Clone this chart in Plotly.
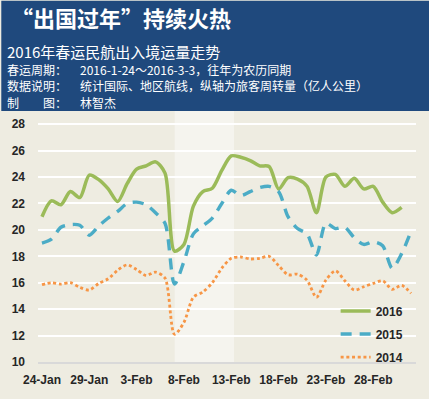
import plotly.graph_objects as go
import pandas as pd

# ---------------- data ----------------
start_date = "2016-01-24"
n_days = 40
dates = pd.date_range(start_date, periods=n_days, freq="D")

series_names = ["2016", "2015", "2014"]

values_2016 = [21.0, 22.2, 21.9, 22.9, 22.45, 24.15, 23.8, 23.1, 22.15, 23.5,
               24.6, 24.85, 25.15, 24.3, 18.4, 18.9, 21.8, 22.9, 23.15, 24.5,
               25.6, 25.5, 25.25, 24.85, 24.8, 23.1, 23.95, 23.85, 23.3, 21.3,
               24.0, 24.2, 23.3, 23.9, 23.1, 23.3, 22.1, 21.3, 21.7]

values_2015 = [19.0, 19.3, 20.2, 20.4, 20.35, 19.6, 20.3, 20.9, 21.4, 22.0,
               22.1, 21.9, 21.3, 20.5, 15.9, 17.6, 19.7, 20.3, 20.9, 22.0,
               23.0, 22.6, 22.9, 23.2, 23.3, 22.9, 21.0, 20.1, 19.7, 18.1,
               20.5, 20.1, 20.2, 19.4, 18.9, 19.1, 18.8, 17.1, 18.2, 19.9]

values_2014 = [15.85, 16.0, 15.9, 16.0, 15.65, 15.45, 15.95, 16.3, 16.95, 17.35,
               17.0, 16.55, 16.8, 16.35, 12.1, 13.0, 14.9, 15.3, 16.0, 17.1,
               17.85, 17.95, 17.8, 17.85, 18.0, 17.3, 16.6, 16.65, 16.2, 14.9,
               16.2, 16.9, 16.15, 15.45, 15.7, 15.95, 16.15, 15.5, 15.8, 15.2]

y_ticks = [10, 12, 14, 16, 18, 20, 22, 24, 26, 28]
x_tick_dates = ["2016-01-24", "2016-01-29", "2016-02-03", "2016-02-08",
                "2016-02-13", "2016-02-18", "2016-02-23", "2016-02-28"]
x_tick_labels = ["24-Jan", "29-Jan", "3-Feb", "8-Feb",
                 "13-Feb", "18-Feb", "23-Feb", "28-Feb"]

holiday_band = ["2016-02-07 00:30", "2016-02-13 07:00"]

title_text = "“出国过年”持续火热"
subtitle_text = "2016年春运民航出入境运量走势"
info_labels = ["春运周期：", "数据说明：", "制　　图："]
info_values = ["2016-1-24～2016-3-3，往年为农历同期",
               "统计国际、地区航线，纵轴为旅客周转量（亿人公里）",
               "林智杰"]

# ---------------- style ----------------
W_PX, H_PX = 429, 399
L, R, T, B = 35, 416, 111, 368
BG = "#EEECE1"
BAND = "#F5F4EE"
HEADER = "#1F497D"
C2016, C2015, C2014 = "#9BBB59", "#4BACC6", "#F79646"
TXT = "#262626"
CJK = "Noto Sans CJK SC"
LAT = "Liberation Sans, Arial, sans-serif"


def px(x):
    return (x - L) / (R - L)


def py(y):
    return (B - y) / (B - T)


fig = go.Figure()

fig.add_trace(go.Scatter(
    x=dates[:len(values_2016)], y=values_2016, name=series_names[0],
    mode="lines", line=dict(color=C2016, width=3.5, shape="spline", smoothing=0.8),
    legendgroup="a"))
fig.add_trace(go.Scatter(
    x=dates[:len(values_2015)], y=values_2015, name=series_names[1],
    mode="lines", line=dict(color=C2015, width=3.4, shape="spline", smoothing=0.8,
                            dash="11px,8px"),
    legendgroup="b"))
fig.add_trace(go.Scatter(
    x=dates[:len(values_2014)], y=values_2014, name=series_names[2],
    mode="lines", line=dict(color=C2014, width=2.8, shape="spline", smoothing=0.8,
                            dash="3px,2.7px"),
    legendgroup="c"))

shapes = [
    dict(type="rect", xref="x", yref="paper", x0=holiday_band[0], x1=holiday_band[1],
         y0=0, y1=1, fillcolor=BAND, line=dict(width=0), layer="below"),
    # legend backdrop hiding the gridlines
    dict(type="rect", xref="paper", yref="paper", x0=px(318), x1=1,
         y0=py(366), y1=py(302), fillcolor=BG, line=dict(width=0), layer="between"),
    dict(type="rect", xref="paper", yref="paper", x0=px(-2), x1=px(W_PX + 2),
         y0=py(T), y1=py(-2), fillcolor=HEADER, line=dict(width=0), layer="above"),
]

annotations = [
    dict(text="<b>" + title_text + "</b>", x=px(6), y=py(15), xref="paper", yref="paper",
         xanchor="left", yanchor="middle", showarrow=False,
         font=dict(family=CJK, size=22, color="white")),
    dict(text=subtitle_text, x=px(2), y=py(50), xref="paper", yref="paper",
         xanchor="left", yanchor="middle", showarrow=False,
         font=dict(family=CJK, size=15, color="white")),
]
for k, (lab, val) in enumerate(zip(info_labels, info_values)):
    yc = 68 + 17 * k
    annotations.append(dict(text=lab, x=px(2), y=py(yc), xref="paper", yref="paper",
                            xanchor="left", yanchor="middle", showarrow=False,
                            font=dict(family=CJK, size=12, color="white")))
    annotations.append(dict(text=val, x=px(75), y=py(yc), xref="paper", yref="paper",
                            xanchor="left", yanchor="middle", showarrow=False,
                            font=dict(family=CJK, size=12, color="white")))

fig.update_layout(
    width=W_PX, height=H_PX,
    margin=dict(l=L, r=W_PX - R, t=T, b=H_PX - B, pad=0),
    paper_bgcolor=BG, plot_bgcolor=BG,
    shapes=shapes, annotations=annotations,
    showlegend=True,
    legend=dict(x=px(335), xanchor="left", y=py(301), yanchor="top",
                bgcolor="rgba(0,0,0,0)",
                font=dict(family=LAT, size=12, color=TXT, weight="bold"),
                tracegroupgap=4, itemwidth=30),
    xaxis=dict(type="date",
               range=["2016-01-23 13:56", "2016-03-03 12:28"],
               tickvals=x_tick_dates, ticktext=x_tick_labels,
               showgrid=False, zeroline=False,
               showline=True, linecolor="#D9D9D9", linewidth=1.5,
               ticks="", ticklabelstandoff=6,
               tickfont=dict(family=LAT, size=12, color=TXT, weight="bold")),
    yaxis=dict(range=[10, 29], tickvals=y_ticks,
               showgrid=True, gridcolor="white", gridwidth=2,
               zeroline=False, showline=False, ticks="", ticklabelstandoff=12,
               tickfont=dict(family=LAT, size=12, color=TXT, weight="bold")),
)

fig.write_html("out.html",
               config={"displayModeBar": False},
               post_script="document.body.style.margin='0';document.body.style.padding='0';")
